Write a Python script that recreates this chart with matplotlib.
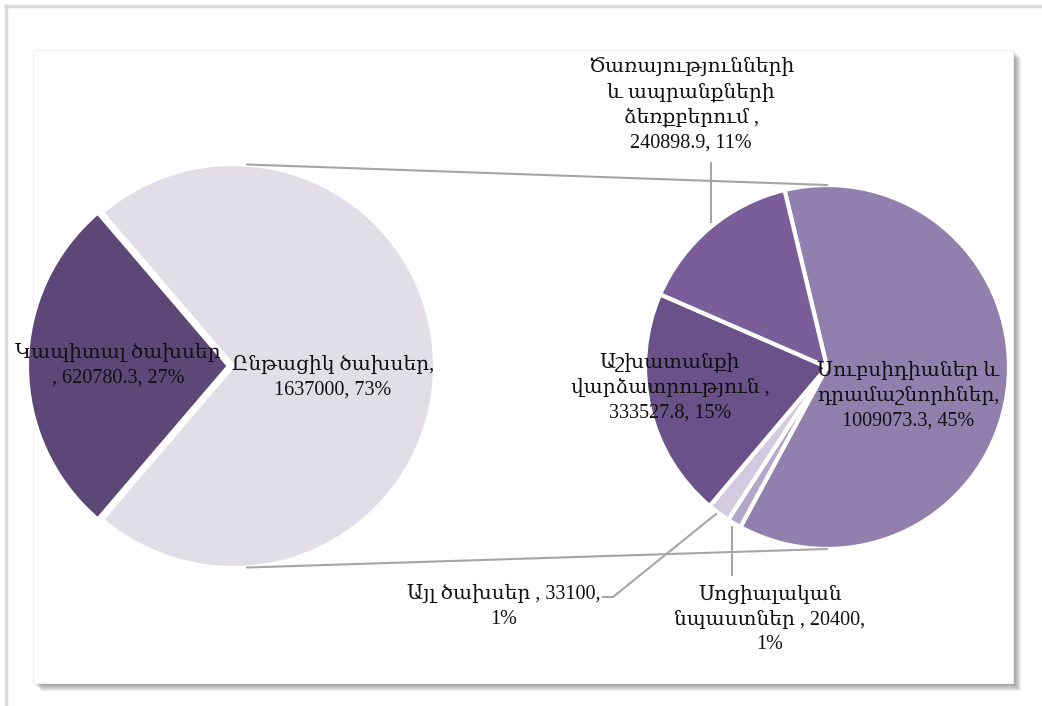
import numpy as np
import matplotlib
matplotlib.use("Agg")
import matplotlib.pyplot as plt
from matplotlib.patches import Rectangle

plt.rcParams['font.family'] = ['Liberation Serif', 'DejaVu Serif']

# main pie
main_labels = ["Կապիտալ ծախսեր\n, 620780.3, 27%", "Ընթացիկ ծախսեր,\n1637000, 73%"]
main_values = [620780.3, 1637000]
main_colors = ["#5d4777", "#e1dee8"]

# breakdown of current expenditures (clockwise order)
sub_labels = ["Սուբսիդիաներ և\nդրամաշնորհներ,\n1009073.3, 45%",
              "Սոցիալական\nնպաստներ , 20400,\n1%",
              "Այլ ծախսեր , 33100,\n1%",
              "Աշխատանքի\nվարձատրություն ,\n333527.8, 15%",
              "Ծառայությունների\nև ապրանքների\nձեռքբերում ,\n240898.9, 11%"]
sub_values = [1009073.3, 20400, 33100, 333527.8, 240898.9]
sub_colors = ["#917fae", "#b2a7c9", "#d2cbdf", "#6a5189", "#7a5e9a"]

W, H = 1042, 706
fig = plt.figure(figsize=(W / 100, H / 100), dpi=100)
ax = fig.add_axes([0, 0, 1, 1])

def Y(y):
    return H - y

# frame + shadow
for i in range(8):
    ax.add_patch(Rectangle((33 + i + 1, Y(683) - i - 1), 980, 633, facecolor="#000000",
                           alpha=0.06, edgecolor="none", zorder=0))
ax.add_patch(Rectangle((33, Y(683)), 980, 633, facecolor="white", edgecolor="#f0f0f0",
                       linewidth=0.8, zorder=0.5))
ax.plot([6, 6], [0, Y(6)], color="#d9d9d9", lw=2.5, zorder=0.2)
ax.plot([6, W], [Y(6), Y(6)], color="#d9d9d9", lw=2.5, zorder=0.2)

c1, r1 = (233, Y(366)), 202
c2, r2 = (827, Y(367)), 182

frac0 = main_values[0] / sum(main_values)
ax.pie(main_values, colors=main_colors, center=c1, radius=r1, explode=[4, 0],
       startangle=180 - 180 * frac0, counterclock=True,
       wedgeprops=dict(edgecolor="white", linewidth=3), frame=True)

ax.pie(sub_values, colors=sub_colors, center=c2, radius=r2,
       startangle=103.5, counterclock=False,
       wedgeprops=dict(edgecolor="white", linewidth=3), frame=True)

# connector lines between the pies
for a1, a2 in [(86, 90), (274, 270)]:
    p1 = (c1[0] + r1 * np.cos(np.radians(a1)), c1[1] + r1 * np.sin(np.radians(a1)))
    p2 = (c2[0] + r2 * np.cos(np.radians(a2)), c2[1] + r2 * np.sin(np.radians(a2)))
    ax.plot([p1[0], p2[0]], [p1[1], p2[1]], color="#a6a6a6", lw=1.5, zorder=1)

fs = 14.5
ls = 1.4
kw = dict(ha="center", va="center", fontsize=fs, linespacing=ls, zorder=5, color="#111111")
ax.text(118, Y(366), main_labels[0], **kw)
ax.text(333, Y(378), main_labels[1], **kw)

ax.text(908, Y(396), sub_labels[0], **kw)
ax.text(770, Y(620), sub_labels[1], **kw)
ax.text(504, Y(607), sub_labels[2], **kw)
ax.text(670, Y(388), sub_labels[3], **kw)
ax.text(691, Y(105), sub_labels[4], **kw)

# leader lines
ax.plot([711, 711], [Y(163), Y(222)], color="#a6a6a6", lw=1.5, zorder=4)
ax.plot([732, 732], [Y(575), Y(527)], color="#a6a6a6", lw=1.5, zorder=4)
ax.plot([603, 613, 716], [Y(597), Y(597), Y(514)], color="#a6a6a6", lw=1.5, zorder=4)

ax.set_xlim(0, W)
ax.set_ylim(0, H)
ax.set_aspect("auto")
ax.axis("off")

fig.savefig("out.png", dpi=100)
